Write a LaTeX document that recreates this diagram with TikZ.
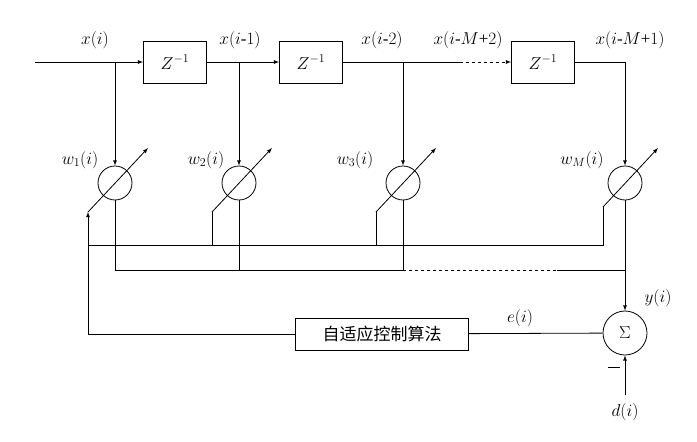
\documentclass[tikz,border=0pt]{standalone}
\usepackage{fontspec}
\setmainfont{Liberation Serif}
\newfontfamily\cjk{Noto Sans CJK SC}
\usetikzlibrary{positioning,calc,arrows}

\begin{document}
\begin{tikzpicture}[
  x=1pt, y=-1pt, thick,
  dly/.style={draw, minimum width=63pt, minimum height=42pt, font=\fontsize{17}{19}\selectfont},
  wt/.style={draw, circle, minimum size=34pt, inner sep=0pt},
  sm/.style={draw, circle, minimum size=44pt, inner sep=0pt, font=\fontsize{17}{19}\selectfont},
  lab/.style={font=\fontsize{17}{19}\selectfont}
]
\useasboundingbox (0,0) rectangle (697,442);

% delay line
\coordinate (in) at (35,62);
\node[dly] (z1) at (175,62) {$Z^{-1}$};
\node[dly] (z2) at (311,62) {$Z^{-1}$};
\node[dly] (z3) at (543,62) {$Z^{-1}$};

\node[wt] (w1) at (115,183) {};
\node[wt] (w2) at (239,183) {};
\node[wt] (w3) at (403,183) {};
\node[wt] (wm) at (625,183) {};

\node[sm] (sum) at (625,333) {$\Sigma$};
\node[draw, minimum width=173pt, minimum height=32pt, font=\cjk\fontsize{17}{19}\selectfont] (alg) at (382,334) {自适应控制算法};

\coordinate (t1) at (115,62);
\coordinate (t2) at (239,62);
\coordinate (t3) at (403,62);
\coordinate (dsh) at (460,62);
\coordinate (tm) at (625,62);
\coordinate (fb) at (88,334);
\coordinate (d) at (625,395);

\draw (in) -- (t1);
\draw[-latex] (t1) -- (z1);
\draw (z1) -- (t2);
\draw[-latex] (t2) -- (z2);
\draw (z2) -- (dsh);
\draw[dashed,-latex] (dsh) -- (z3);
\draw (z3) -| (tm);

\foreach \t/\w in {t1/w1,t2/w2,t3/w3,tm/wm}
  \draw[-latex] (\t) -- (\w);

% adjustable weights
\foreach \w/\s in {w1/27,w2/27,w3/27,wm/22}
  \draw[-latex] ($(\w)+(-\s,\s+2)$) -- ($(\w)+(33,-35)$);

% adaptation bus
\draw[-latex] (fb) -- ($(w1)+(-27,29)$);
\draw ($(w1)+(-27,62)$) -| ($(w2)+(-27,29)$);
\draw ($(w2)+(-27,62)$) -| ($(w3)+(-27,29)$);
\draw ($(w3)+(-27,62)$) -| ($(wm)+(-22,24)$);

% outputs
\draw (w1) -- ++(0,87) -- ($(w3)+(0,87)$);
\draw (w2) -- ++(0,87);
\draw (w3) -- ++(0,87);
\draw[dashed] ($(w3)+(0,87)$) -- ($(w3)+(154,87)$);
\draw ($(w3)+(154,87)$) -- ($(wm)+(0,87)$);
\draw[-latex] (wm) -- (sum);

% error path
\draw (sum) -- (alg);
\draw (alg) -| (fb);
\draw[-latex] (d) -- (sum);
\draw (608,367) -- (620,367);

% labels
\node[lab] at (95,40) {$x(i)$};
\node[lab] at (240,40) {$x(i\mbox{-}1)$};
\node[lab] at (382,40) {$x(i\mbox{-}2)$};
\node[lab] at (468,40) {$x(i\mbox{-}M\mbox{+}2)$};
\node[lab] at (630,40) {$x(i\mbox{-}M\mbox{+}1)$};
\node[lab] at (80,160) {$w_1(i)$};
\node[lab] at (206,160) {$w_2(i)$};
\node[lab] at (355,160) {$w_3(i)$};
\node[lab] at (582,160) {$w_M(i)$};
\node[lab] at (658,298) {$y(i)$};
\node[lab] at (520,318) {$e(i)$};
\node[lab] at (625,412) {$d(i)$};
\end{tikzpicture}
\end{document}
